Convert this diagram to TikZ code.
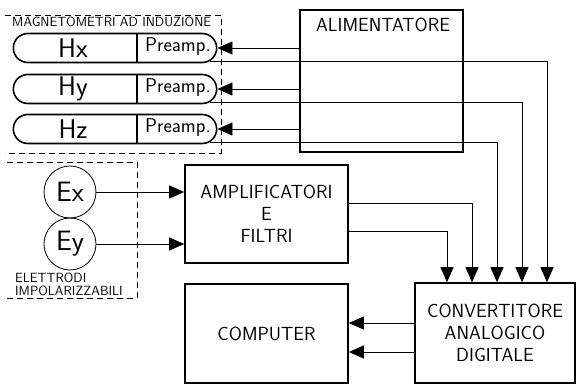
\documentclass[tikz,border=0pt]{standalone}
\usepackage{tikz}
\usetikzlibrary{arrows.meta,shapes.misc}

\tikzset{
  blocco/.style={draw, line width=1.6pt, inner sep=0pt, font=\sffamily\fontsize{19}{22}\selectfont, align=center},
  capsula/.style={draw, rounded rectangle, line width=1.6pt, minimum width=210pt, minimum height=29pt},
  elettrodo/.style={draw, circle, line width=0.8pt, minimum size=52pt, inner sep=0pt, font=\sffamily\fontsize{28}{30}\selectfont},
  sig/.style={line width=0.8pt, -{Triangle[width=13pt,length=15pt]}},
  filo/.style={line width=0.8pt},
  gruppo/.style={line width=0.7pt, dash pattern=on 6pt off 4pt},
  testo/.style={font=\sffamily\fontsize{19}{22}\selectfont, align=center},
  canale/.style={font=\sffamily\fontsize{27}{30}\selectfont},
  pre/.style={font=\sffamily\fontsize{20}{22}\selectfont},
  piccolo/.style={font=\sffamily\fontsize{13.3}{15}\selectfont, anchor=west, inner sep=0pt},
}

\begin{document}
\begin{tikzpicture}[x=1pt,y=-1pt]
\useasboundingbox (0,0) rectangle (578,385);
% Nodes
\node[blocco, minimum width=163pt, minimum height=142pt] (alim) at (381.5,81) {};
\node[testo] (alimtxt) at (383,25) {ALIMENTATORE};
\node[blocco, minimum width=163pt, minimum height=98pt] (amp) at (266.5,214) {AMPLIFICATORI\\E\\FILTRI};
\node[blocco, minimum width=163pt, minimum height=99pt] (comp) at (266.5,333.5) {COMPUTER};
\node[blocco, minimum width=160pt, minimum height=100pt] (conv) at (495,333) {CONVERTITORE\\ANALOGICO\\DIGITALE};

\node[capsula] (hx) at (115,48) {};
\node[capsula] (hy) at (115,89) {};
\node[capsula] (hz) at (115,129) {};
\node[canale] (hxtxt) at (73,48) {Hx};
\node[canale] (hytxt) at (73,89) {Hy};
\node[canale] (hztxt) at (73,129) {Hz};
\node[pre] (prex) at (178,47) {Preamp.};
\node[pre] (prey) at (178,88) {Preamp.};
\node[pre] (prez) at (178,128) {Preamp.};

\node[elettrodo] (ex) at (70,192) {Ex};
\node[elettrodo] (ey) at (70,244) {Ey};

\node[piccolo] (magtxt) at (12,22) {MAGNETOMETRI AD INDUZIONE};
\node[piccolo] (eltxt) at (15,278) {ELETTRODI};
\node[piccolo] (imptxt) at (15,291) {IMPOLARIZZABILI};

\coordinate (in1) at ([xshift=-48pt]conv.north);
\coordinate (in2) at ([xshift=-23pt]conv.north);
\coordinate (in3) at ([xshift=2pt]conv.north);
\coordinate (in4) at ([xshift=27pt]conv.north);
\coordinate (in5) at ([xshift=52pt]conv.north);

% Groups
\draw[gruppo] (5,15) -| (221,153) -- (5,153);
\draw[gruppo] (7,162) -| (137,298) -- (7,298);

% Dividers
\draw[line width=1.6pt] ([xshift=22pt]hx.north) -- ([xshift=22pt]hx.south);
\draw[line width=1.6pt] ([xshift=22pt]hy.north) -- ([xshift=22pt]hy.south);
\draw[line width=1.6pt] ([xshift=22pt]hz.north) -- ([xshift=22pt]hz.south);

% Edges
\draw[sig] (alim.west |- hx.east) -- (hx.east);
\draw[sig] (alim.west |- hy.east) -- (hy.east);
\draw[sig] (alim.west |- hz.east) -- (hz.east);
\draw[sig] ([xshift=95pt,yshift=2pt]hx.south) -| (in5);
\draw[sig] ([xshift=95pt,yshift=2pt]hy.south) -| (in4);
\draw[sig] ([xshift=95pt,yshift=2pt]hz.south) -| (in3);
\draw[sig] (ex) -- (ex -| amp.west);
\draw[sig] (ey) -- (ey -| amp.west);
\draw[sig] ([yshift=11pt]amp.east) -| (in2);
\draw[sig] ([yshift=-17pt]amp.east) -| (in1);
\draw[sig] ([yshift=10pt]conv.west) -- ([yshift=10pt]conv.west -| comp.east);
\draw[sig] ([yshift=-19pt]conv.west) -- ([yshift=-19pt]conv.west -| comp.east);
\end{tikzpicture}
\end{document}
